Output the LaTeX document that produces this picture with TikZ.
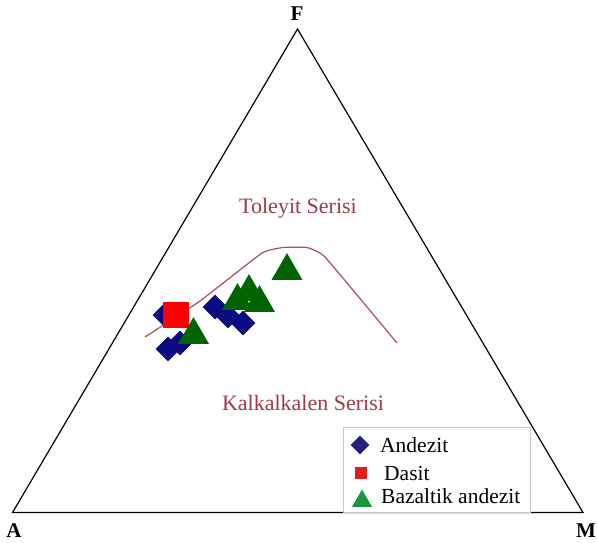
\documentclass[tikz,border=0pt]{standalone}
\usepackage{fontspec}
\setmainfont{Liberation Serif}
\usetikzlibrary{shapes.geometric}
\definecolor{serred}{RGB}{160,58,72}
\definecolor{curvered}{RGB}{165,80,90}
\definecolor{andnavy}{RGB}{10,10,130}
\definecolor{basgreen}{RGB}{0,100,0}
\definecolor{legnavy}{RGB}{40,32,120}
\definecolor{legred}{RGB}{225,30,30}
\definecolor{leggreen}{RGB}{30,150,60}
\definecolor{legframe}{RGB}{200,200,200}
\tikzset{
  x=1pt, y=-1pt,
  vert/.style={font=\fontsize{21}{24}\selectfont\bfseries, inner sep=0pt, anchor=base},
  serlabel/.style={font=\fontsize{22}{26}\selectfont, text=serred, inner sep=0pt, anchor=base},
  legtext/.style={font=\fontsize{21.5}{25}\selectfont, inner sep=0pt, anchor=base west},
  dia/.style={diamond, fill=andnavy, minimum width=25pt, minimum height=25pt, inner sep=0pt, aspect=1},
  sq/.style={rectangle, fill=red, minimum size=26pt, inner sep=0pt},
  tri/.style={regular polygon, regular polygon sides=3, fill=basgreen, minimum size=35.8pt, inner sep=0pt},
  legdia/.style={diamond, fill=legnavy, minimum width=19pt, minimum height=19pt, inner sep=0pt, aspect=1},
  legsq/.style={rectangle, fill=legred, minimum size=11.5pt, inner sep=0pt},
  legtri/.style={regular polygon, regular polygon sides=3, fill=leggreen, minimum size=23pt, inner sep=0pt},
}
\begin{document}
\begin{tikzpicture}
\useasboundingbox (0,0) rectangle (597,542);
% ternary triangle
\coordinate (F) at (297.5,29);
\coordinate (A) at (12.5,512.5);
\coordinate (M) at (583,512.5);
\draw[line width=1.2pt, line join=miter] (F) -- (A) -- (M) -- cycle;
\node[vert] (lF) at (297,20) {F};
\node[vert] (lA) at (14,537) {A};
\node[vert] (lM) at (586,537) {M};
% dividing curve
\draw[curvered, line width=1.2pt] plot[smooth, tension=0.2] coordinates {(145,337) (200,301) (262,253) (283,247.5) (307,247.5) (325,257) (397,343)};
\node[serlabel] (tol) at (298,213) {Toleyit Serisi};
\node[serlabel] (kal) at (303,410) {Kalkalkalen Serisi};
% data: Andezit
\node[dia] (d1) at (165,315) {};
\node[dia] (d2) at (168,349) {};
\node[dia] (d3) at (180,343) {};
\node[dia] (d4) at (215,307) {};
\node[dia] (d5) at (228,316) {};
\node[dia] (d6) at (243,323) {};
% Dasit
\node[sq] (s1) at (176,315) {};
% Bazaltik andezit
\node[tri] (t1) at (193.5,335) {};
\node[tri] (t2) at (237.5,301) {};
\node[tri] (t3) at (249,292) {};
\node[tri] (t4) at (259.5,303) {};
\node[tri] (t5) at (287,271) {};
% legend
\node[draw=legframe, fill=white, line width=0.8pt, minimum width=187pt, minimum height=85pt, inner sep=0pt, anchor=north west] (leg) at (343,427) {};
\begin{scope}
\clip (leg.south west) rectangle (leg.north east);
\node[legdia] (ld) at (360,445) {};
\node[legtext] (lt1) at (380,452) {Andezit};
\node[legsq] (ls) at (361,473) {};
\node[legtext] (lt2) at (384,480) {Dasit};
\node[legtri] (lg) at (362,501) {};
\node[legtext] (lt3) at (381,503) {Bazaltik andezit};
\end{scope}
\end{tikzpicture}
\end{document}
